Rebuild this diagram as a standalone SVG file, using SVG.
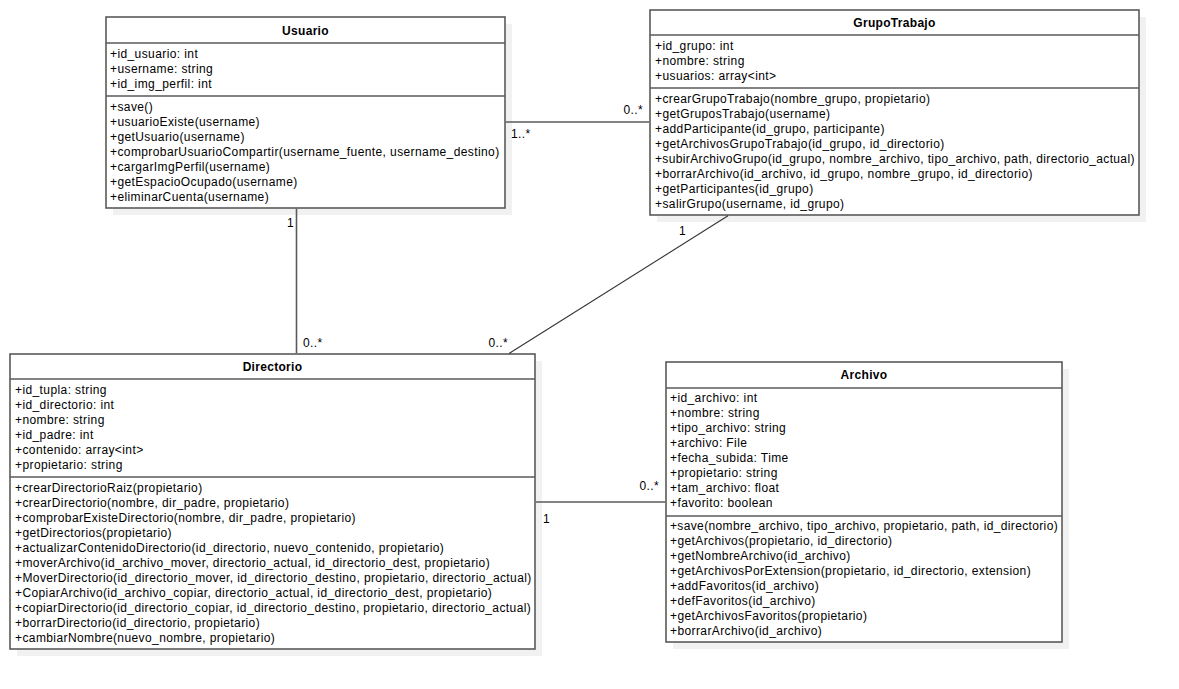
<svg xmlns="http://www.w3.org/2000/svg" width="1179" height="689" viewBox="0 0 1179 689">
<style>
text{font-family:"Liberation Sans",Arial,sans-serif;font-size:12px;fill:#000;letter-spacing:0.4px}
.t{font-weight:bold;text-anchor:middle;letter-spacing:0.3px}
.n{letter-spacing:0.36px}
.box{fill:#fff;stroke:#5a5a5a;stroke-width:1.6}
.sh{fill:#f1f1f1}
.sep{stroke:#5a5a5a;stroke-width:1.6}
.ln{stroke:#5a5a5a;stroke-width:1.6;fill:none}
.dl{stroke:#333;stroke-width:1.1;fill:none}
.r{text-anchor:end}
</style>
<rect width="1179" height="689" fill="#fff"/>
<g id="Usuario">
<rect class="sh" x="113" y="24" width="399" height="191"/>
<rect class="box" x="106" y="17" width="399" height="191"/>
<line class="sep" x1="106" y1="43" x2="505" y2="43"/>
<line class="sep" x1="106" y1="96" x2="505" y2="96"/>
<text class="t" x="305.5" y="35">Usuario</text>
<text x="110" y="57.5">+id_usuario: int</text>
<text x="110" y="72.5">+username: string</text>
<text x="110" y="87.5">+id_img_perfil: int</text>
<text x="110" y="111">+save()</text>
<text x="110" y="126">+usuarioExiste(username)</text>
<text x="110" y="141">+getUsuario(username)</text>
<text x="110" y="156">+comprobarUsuarioCompartir(username_fuente, username_destino)</text>
<text x="110" y="171">+cargarImgPerfil(username)</text>
<text x="110" y="186">+getEspacioOcupado(username)</text>
<text x="110" y="201">+eliminarCuenta(username)</text>
</g>
<g id="GrupoTrabajo">
<rect class="sh" x="657" y="17" width="489" height="205"/>
<rect class="box" x="650" y="10" width="489" height="205"/>
<line class="sep" x1="650" y1="35" x2="1139" y2="35"/>
<line class="sep" x1="650" y1="88" x2="1139" y2="88"/>
<text class="t" x="894.5" y="26.5">GrupoTrabajo</text>
<text x="655" y="50">+id_grupo: int</text>
<text x="655" y="65">+nombre: string</text>
<text x="655" y="80">+usuarios: array&lt;int&gt;</text>
<text x="655" y="103">+crearGrupoTrabajo(nombre_grupo, propietario)</text>
<text x="655" y="118">+getGruposTrabajo(username)</text>
<text x="655" y="133">+addParticipante(id_grupo, participante)</text>
<text x="655" y="148">+getArchivosGrupoTrabajo(id_grupo, id_directorio)</text>
<text x="655" y="163" class="n">+subirArchivoGrupo(id_grupo, nombre_archivo, tipo_archivo, path, directorio_actual)</text>
<text x="655" y="178">+borrarArchivo(id_archivo, id_grupo, nombre_grupo, id_directorio)</text>
<text x="655" y="193">+getParticipantes(id_grupo)</text>
<text x="655" y="208">+salirGrupo(username, id_grupo)</text>
</g>
<g id="Directorio">
<rect class="sh" x="17" y="361" width="525" height="295"/>
<rect class="box" x="10" y="354" width="525" height="295"/>
<line class="sep" x1="10" y1="379" x2="535" y2="379"/>
<line class="sep" x1="10" y1="477" x2="535" y2="477"/>
<text class="t" x="272.5" y="371">Directorio</text>
<text x="15" y="393.5">+id_tupla: string</text>
<text x="15" y="408.5">+id_directorio: int</text>
<text x="15" y="423.5">+nombre: string</text>
<text x="15" y="438.5">+id_padre: int</text>
<text x="15" y="453.5">+contenido: array&lt;int&gt;</text>
<text x="15" y="468.5">+propietario: string</text>
<text x="15" y="492">+crearDirectorioRaiz(propietario)</text>
<text x="15" y="507">+crearDirectorio(nombre, dir_padre, propietario)</text>
<text x="15" y="522">+comprobarExisteDirectorio(nombre, dir_padre, propietario)</text>
<text x="15" y="537">+getDirectorios(propietario)</text>
<text x="15" y="552">+actualizarContenidoDirectorio(id_directorio, nuevo_contenido, propietario)</text>
<text x="15" y="567">+moverArchivo(id_archivo_mover, directorio_actual, id_directorio_dest, propietario)</text>
<text x="15" y="582">+MoverDirectorio(id_directorio_mover, id_directorio_destino, propietario, directorio_actual)</text>
<text x="15" y="597">+CopiarArchivo(id_archivo_copiar, directorio_actual, id_directorio_dest, propietario)</text>
<text x="15" y="612">+copiarDirectorio(id_directorio_copiar, id_directorio_destino, propietario, directorio_actual)</text>
<text x="15" y="627">+borrarDirectorio(id_directorio, propietario)</text>
<text x="15" y="642">+cambiarNombre(nuevo_nombre, propietario)</text>
</g>
<g id="Archivo">
<rect class="sh" x="673" y="369" width="396" height="280"/>
<rect class="box" x="666" y="362" width="396" height="280"/>
<line class="sep" x1="666" y1="388" x2="1062" y2="388"/>
<line class="sep" x1="666" y1="516" x2="1062" y2="516"/>
<text class="t" x="864" y="378.5">Archivo</text>
<text x="670" y="402">+id_archivo: int</text>
<text x="670" y="417">+nombre: string</text>
<text x="670" y="432">+tipo_archivo: string</text>
<text x="670" y="447">+archivo: File</text>
<text x="670" y="462">+fecha_subida: Time</text>
<text x="670" y="477">+propietario: string</text>
<text x="670" y="492">+tam_archivo: float</text>
<text x="670" y="507">+favorito: boolean</text>
<text x="670" y="529.5" class="n">+save(nombre_archivo, tipo_archivo, propietario, path, id_directorio)</text>
<text x="670" y="544.5">+getArchivos(propietario, id_directorio)</text>
<text x="670" y="559.5">+getNombreArchivo(id_archivo)</text>
<text x="670" y="574.5">+getArchivosPorExtension(propietario, id_directorio, extension)</text>
<text x="670" y="589.5">+addFavoritos(id_archivo)</text>
<text x="670" y="604.5">+defFavoritos(id_archivo)</text>
<text x="670" y="619.5">+getArchivosFavoritos(propietario)</text>
<text x="670" y="634.5">+borrarArchivo(id_archivo)</text>
</g>
<g id="connectors">
<line class="ln" x1="505.8" y1="122" x2="649.2" y2="122"/>
<line class="ln" x1="296.5" y1="208.8" x2="296.5" y2="353.2"/>
<line class="dl" x1="728" y1="215.8" x2="509" y2="353.5"/>
<line class="ln" x1="535.8" y1="502" x2="665.2" y2="502"/>
<text x="643" y="114" class="r">0..*</text>
<text x="511" y="138">1..*</text>
<text x="294" y="227" class="r">1</text>
<text x="303" y="347">0..*</text>
<text x="686" y="235" class="r">1</text>
<text x="508" y="347" class="r">0..*</text>
<text x="659" y="490" class="r">0..*</text>
<text x="543" y="523">1</text>
</g>
</svg>
